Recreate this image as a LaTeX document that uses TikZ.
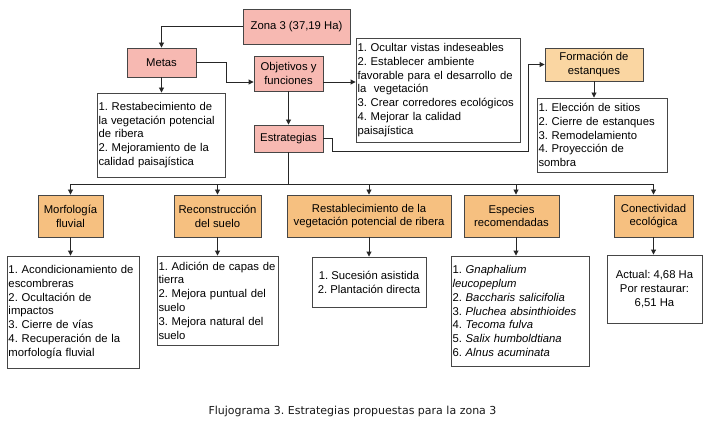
\documentclass[tikz,border=0pt]{standalone}
\usepackage{fontspec}
\setmainfont{Liberation Sans}
\newfontfamily\capfont{DejaVu Sans}
\usetikzlibrary{arrows.meta}
\frenchspacing
\hyphenpenalty=10000
\definecolor{pinkfill}{RGB}{247,185,178}
\definecolor{orangefill}{RGB}{246,192,128}
\definecolor{peachfill}{RGB}{250,214,162}
\definecolor{edge}{RGB}{70,70,70}
\newcommand\boxfont{\fontsize{11.3}{13.8}\selectfont}
\tikzset{
  base/.style={draw=edge, line width=0.9pt, inner sep=0pt, font=\boxfont},
  pinkbox/.style={base, fill=pinkfill, align=center},
  orangebox/.style={base, fill=orangefill, align=center},
  peachbox/.style={base, fill=peachfill, align=center},
  listbox/.style={base, fill=white, align=left, inner xsep=1.5pt},
  cbox/.style={base, fill=white, align=center},
  conn/.style={draw=black!85, line width=0.9pt},
  arr/.style={conn, -{Triangle[length=5pt,width=5pt]}}
}
\begin{document}
\begin{tikzpicture}[x=1pt,y=-1pt]
\useasboundingbox (0,0) rectangle (709,422);
\fill[white] (0,0) rectangle (709,422);

\node[pinkbox, minimum width=107pt, minimum height=35pt] (zona) at (296.5,26.5) {Zona 3 (37,19 Ha)};
\node[pinkbox, minimum width=69pt, minimum height=29pt] (metas) at (161.5,62.5) {Metas};
\node[pinkbox, minimum width=69pt, minimum height=35pt] (obj) at (288.5,73.5) {Objetivos y\\funciones};
\node[pinkbox, minimum width=69pt, minimum height=27pt] (estr) at (288.5,138.5) {Estrategias};

\node[listbox, text width=125pt, minimum height=84pt] (metaslist) at (161,135)
 {1. Restabecimiento de\\la vegetación potencial\\de ribera\\2. Mejoramiento de la\\calidad paisajística};
\node[listbox, text width=161pt, minimum height=104pt] (objlist) at (438,90)
 {1. Ocultar vistas indeseables\\2. Establecer ambiente\\favorable para el desarrollo de\\la\ \ vegetación\\3. Crear corredores ecológicos\\4. Mejorar la calidad\\paisajística};

\node[peachbox, minimum width=98pt, minimum height=33pt] (form) at (594,64.5) {Formación de\\estanques};
\node[listbox, text width=127pt, minimum height=74pt] (formlist) at (602,135)
 {1. Elección de sitios\\2. Cierre de estanques\\3. Remodelamiento\\4. Proyección de\\sombra};

\node[orangebox, minimum width=65pt, minimum height=42pt] (morf) at (70.5,216) {Morfología\\fluvial};
\node[orangebox, minimum width=87pt, minimum height=42pt] (recon) at (217.5,216) {Reconstrucción\\del suelo};
\node[orangebox, minimum width=164pt, minimum height=42pt] (rest) at (369,216) {Restablecimiento de la\\vegetación potencial de ribera};
\node[orangebox, minimum width=95pt, minimum height=42pt] (esp) at (511.5,216) {Especies\\recomendadas};
\node[orangebox, minimum width=79pt, minimum height=42pt] (con) at (653.5,216) {Conectividad\\ecológica};

\node[listbox, text width=129pt, minimum height=112pt] (morflist) at (73,312)
 {1. Acondicionamiento de\\escombreras\\2. Ocultación de\\impactos\\3. Cierre de vías\\4. Recuperación de la\\morfología fluvial};
\node[listbox, text width=118pt, minimum height=89pt] (reconlist) at (217.5,300.5)
 {1. Adición de capas de\\tierra\\2. Mejora puntual del\\suelo\\3. Mejora natural del\\suelo};
\node[cbox, minimum width=114pt, minimum height=50pt] (restlist) at (369,282)
 {1. Sucesión asistida\\2. Plantación directa};
\node[listbox, text width=135pt, minimum height=110pt] (esplist) at (520,311)
 {1. \textit{Gnaphalium}\\\textit{leucopeplum}\\2. \textit{Baccharis salicifolia}\\3. \textit{Pluchea absinthioides}\\4. \textit{Tecoma fulva}\\5. \textit{Salix humboldtiana}\\6. \textit{Alnus acuminata}};
\node[cbox, minimum width=95pt, minimum height=68pt] (conlist) at (654.5,289)
 {Actual: 4,68 Ha\\Por restaurar:\\6,51 Ha};

\node[font=\capfont\fontsize{11}{13}\selectfont, inner sep=0pt, text=black!90] (cap) at (352.5,411) {Flujograma 3. Estrategias propuestas para la zona 3};

% connectors
\draw[arr] (zona.west) -| (metas.north);
\draw[arr] (metas.east) -- (226,62.5) |- (obj.west |- 0,82);
\draw[arr] (metas.south) -- (metaslist.north -| metas.south);
\draw[arr] (obj.east |- 0,82) -- (objlist.west |- 0,82);
\draw[arr] (obj.south) -- (estr.north);
\draw[arr] (estr.east) -- (332,138.5) -- (332,151) -- (528,151) |- (form.west);
\draw[arr] (form.south) -- (formlist.north -| form.south);

\coordinate (hub) at (288.5,184);
\coordinate (espin) at ([xshift=4.5pt]esp.north);
\coordinate (espout) at ([xshift=4.5pt]esp.south);
\draw[conn] (estr.south) -- (hub);
\draw[arr] (hub) -| (morf.north);
\draw[arr] (hub) -| (recon.north);
\draw[arr] (hub) -| (rest.north);
\draw[arr] (hub) -| (espin);
\draw[arr] (hub) -| (con.north);

\draw[arr] (morf.south) -- (morflist.north -| morf.south);
\draw[arr] (recon.south) -- (reconlist.north);
\draw[arr] (rest.south) -- (restlist.north);
\draw[arr] (espout) -- (esplist.north -| espout);
\draw[arr] (con.south) -- (conlist.north -| con.south);
\end{tikzpicture}
\end{document}
